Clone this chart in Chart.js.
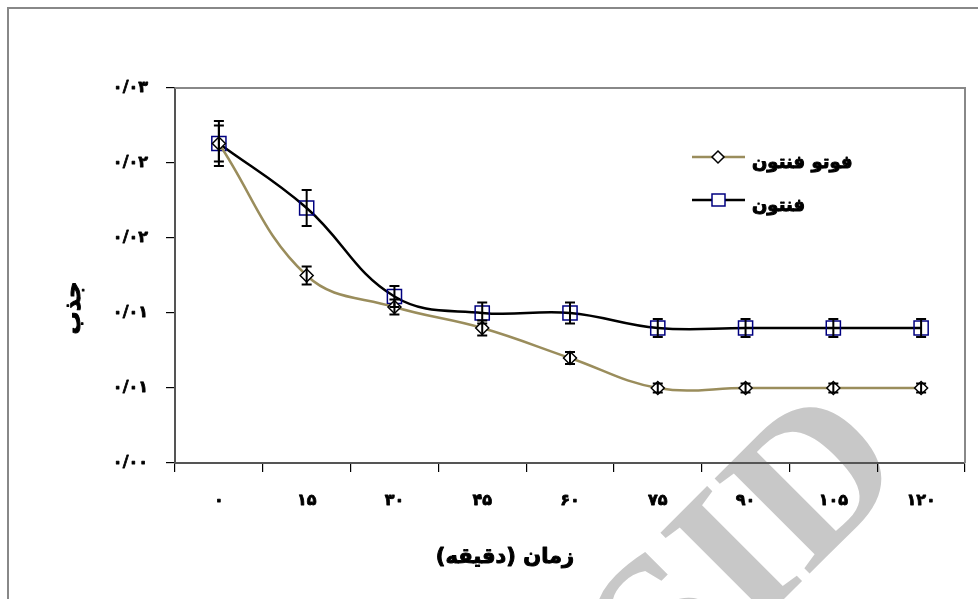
<!DOCTYPE html>
<html>
<head>
<meta charset="utf-8">
<script src="https://cdn.jsdelivr.net/npm/chart.js@4.4.1/dist/chart.umd.min.js"></script>
<style>
  body { margin: 0; background: #fff; }
  canvas { display: block; }
</style>
</head>
<body>
<canvas id="chart" width="978" height="599"></canvas>
<script>
const xLabels = ['۰', '۱۵', '۳۰', '۴۵', '۶۰', '۷۵', '۹۰', '۱۰۵', '۱۲۰'];
const yTickLabels = ['۰/۰۰', '۰/۰۱', '۰/۰۱', '۰/۰۲', '۰/۰۲', '۰/۰۳'];

const photoFenton = [0.0213, 0.0125, 0.0104, 0.0090, 0.0070, 0.0050, 0.0050, 0.0050, 0.0050];
const photoFentonErr = [0.0012, 0.0006, 0.0005, 0.0005, 0.0004, 0.0003, 0.0003, 0.0003, 0.0003];
const fenton = [0.0213, 0.0170, 0.0111, 0.0100, 0.0100, 0.0090, 0.0090, 0.0090, 0.0090];
const fentonErr = [0.0015, 0.0012, 0.0007, 0.0007, 0.0007, 0.0006, 0.0006, 0.0006, 0.0006];

const OLIVE = '#9a8d5c';
const NAVY = '#000080';
const FONT = '"DejaVu Sans", sans-serif';

// fill + thin stroke so the arabic text looks bold like the original
function boldText(ctx, text, x, y, size, width) {
  ctx.font = 'bold ' + size + 'px ' + FONT;
  ctx.fillStyle = '#000';
  ctx.strokeStyle = '#000';
  ctx.lineWidth = width || 0.9;
  ctx.lineJoin = 'round';
  ctx.strokeText(text, x, y);
  ctx.fillText(text, x, y);
}

const extras = {
  id: 'extras',
  beforeDraw(chart) {
    const ctx = chart.ctx;
    // SID watermark
    ctx.save();
    ctx.translate(670, 713);
    ctx.rotate(-Math.PI / 4);
    ctx.font = 'bold 205px "Liberation Serif", serif';
    ctx.fillStyle = '#c8c8c8';
    ctx.strokeStyle = '#fff';
    ctx.lineWidth = 2;
    ctx.textBaseline = 'alphabetic';
    ctx.fillText('SID', 0, 0);
    ctx.restore();
  },
  afterDatasetsDraw(chart) {
    const ctx = chart.ctx;
    const x = chart.scales.x;
    const y = chart.scales.y;
    const area = chart.chartArea;

    // error bars
    const errs = [photoFentonErr, fentonErr];
    chart.data.datasets.forEach((ds, di) => {
      ds.data.forEach((v, i) => {
        const px = x.getPixelForValue(i);
        const top = y.getPixelForValue(v + errs[di][i]);
        const bot = y.getPixelForValue(v - errs[di][i]);
        ctx.save();
        ctx.strokeStyle = '#000';
        ctx.lineWidth = 2;
        ctx.beginPath();
        ctx.moveTo(px, top); ctx.lineTo(px, bot);
        ctx.moveTo(px - 5, top); ctx.lineTo(px + 5, top);
        ctx.moveTo(px - 5, bot); ctx.lineTo(px + 5, bot);
        ctx.stroke();
        ctx.restore();
      });
    });

    // plot frame top / right
    ctx.save();
    ctx.strokeStyle = '#888';
    ctx.lineWidth = 2;
    ctx.beginPath();
    ctx.moveTo(area.left, area.top);
    ctx.lineTo(area.right, area.top);
    ctx.lineTo(area.right, area.bottom);
    ctx.stroke();

    // outer frame
    ctx.beginPath();
    ctx.moveTo(8, 599);
    ctx.lineTo(8, 8);
    ctx.lineTo(978, 8);
    ctx.stroke();
    ctx.restore();

    // tick labels
    ctx.save();
    ctx.textAlign = 'center';
    ctx.textBaseline = 'middle';
    xLabels.forEach((lab, i) => boldText(ctx, lab, x.getPixelForValue(i), 501, 16, 0.8));
    ctx.textAlign = 'right';
    yTickLabels.forEach((lab, i) => boldText(ctx, lab, 148, y.getPixelForValue(i * 0.005), 16, 0.8));
    ctx.restore();

    // legend
    const rows = [
      { label: 'فوتو فنتون', color: OLIVE, y: 157, marker: 'diamond' },
      { label: 'فنتون', color: '#000', y: 200, marker: 'square' }
    ];
    rows.forEach(r => {
      ctx.save();
      ctx.strokeStyle = r.color;
      ctx.lineWidth = 2.5;
      ctx.beginPath();
      ctx.moveTo(692, r.y); ctx.lineTo(745, r.y);
      ctx.stroke();
      ctx.lineWidth = 1.5;
      if (r.marker === 'diamond') {
        ctx.fillStyle = '#fff';
        ctx.strokeStyle = '#000';
        ctx.beginPath();
        ctx.moveTo(718, r.y - 6); ctx.lineTo(724, r.y); ctx.lineTo(718, r.y + 6); ctx.lineTo(712, r.y);
        ctx.closePath();
        ctx.fill(); ctx.stroke();
      } else {
        ctx.fillStyle = '#fff';
        ctx.strokeStyle = NAVY;
        ctx.fillRect(712, r.y - 6, 13, 12);
        ctx.strokeRect(712, r.y - 6, 13, 12);
      }
      ctx.textAlign = 'left';
      ctx.textBaseline = 'middle';
      boldText(ctx, r.label, 752, r.y + 6, 18, 1);
      ctx.restore();
    });

    // axis titles
    ctx.save();
    ctx.textAlign = 'center';
    ctx.textBaseline = 'middle';
    boldText(ctx, 'زمان (دقیقه)', 505, 558, 21, 1);
    ctx.translate(74, 308);
    ctx.rotate(-Math.PI / 2);
    boldText(ctx, 'جذب', 0, 0, 23, 1);
    ctx.restore();
  }
};

new Chart(document.getElementById('chart'), {
  type: 'line',
  data: {
    labels: xLabels,
    datasets: [
      {
        label: 'فوتو فنتون',
        data: photoFenton,
        borderColor: OLIVE,
        borderWidth: 2.5,
        tension: 0.4,
        pointStyle: 'rectRot',
        pointRadius: 6.5,
        pointBorderColor: '#000',
        pointBackgroundColor: '#fff',
        pointBorderWidth: 1.5
      },
      {
        label: 'فنتون',
        data: fenton,
        borderColor: '#000',
        borderWidth: 2.5,
        tension: 0.4,
        pointStyle: 'rect',
        pointRadius: 10,
        pointBorderColor: NAVY,
        pointBackgroundColor: 'rgba(0,0,0,0)',
        pointBorderWidth: 1.5
      }
    ]
  },
  options: {
    responsive: false,
    animation: false,
    layout: { padding: { left: 0, top: 88, right: 13, bottom: 0 } },
    plugins: { legend: { display: false }, tooltip: { enabled: false } },
    scales: {
      x: {
        offset: true,
        afterFit: s => { s.height = 136; },
        grid: { offset: true, drawOnChartArea: false, drawTicks: true, tickLength: 9, color: '#000', lineWidth: 1.2 },
        border: { color: '#555', width: 2 },
        ticks: { display: false }
      },
      y: {
        min: 0,
        max: 0.025,
        afterFit: s => { s.width = 175; },
        afterBuildTicks: s => {
          s.ticks = yTickLabels.map((_, i) => ({ value: i * 0.005 }));
        },
        grid: { drawOnChartArea: false, drawTicks: true, tickLength: 9, color: '#000', lineWidth: 1.2 },
        border: { color: '#555', width: 2 },
        ticks: { display: false }
      }
    }
  },
  plugins: [extras]
});
</script>
</body>
</html>
